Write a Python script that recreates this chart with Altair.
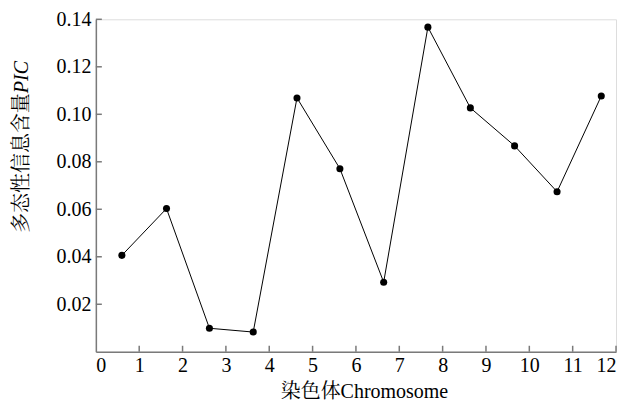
import altair as alt
import pandas as pd

chromosome = [0.6, 1.63, 2.62, 3.63, 4.64, 5.63, 6.64, 7.66, 8.64, 9.66, 10.64, 11.66]
pic = [0.0406, 0.0603, 0.0099, 0.0083, 0.1069, 0.0771, 0.0293, 0.1367, 0.1027, 0.0867, 0.0674, 0.1077]
x_ticks = list(range(0, 13))
y_ticks = [0.02, 0.04, 0.06, 0.08, 0.10, 0.12, 0.14]
x_title = "染色体Chromosome"
y_title_cn = "多态性信息含量"
y_title_en = "PIC"

df = pd.DataFrame({"x": chromosome, "y": pic})
xt = pd.DataFrame({"x": x_ticks[1:]})
yt = pd.DataFrame({"y": y_ticks})

FONT = "Liberation Serif, Noto Serif CJK SC, Noto Sans CJK SC"
AX = "#7a7a7a"
W, H = 521, 333

xs = alt.Scale(domain=[0, 12], nice=False, zero=False)
ys = alt.Scale(domain=[0, 0.14], nice=False)

base = alt.Chart(df)

line = base.mark_line(color="black", strokeWidth=1).encode(
    x=alt.X("x:Q", scale=xs,
            axis=alt.Axis(values=x_ticks, format="d", title=None,
                          ticks=False, domainColor=AX, domainWidth=1.5,
                          labelFont=FONT, labelFontSize=20, labelColor="black",
                          labelPadding=4, grid=False)),
    y=alt.Y("y:Q", scale=ys,
            axis=alt.Axis(values=y_ticks, format=".2f", title=None,
                          ticks=False, domainColor=AX, domainWidth=1.5,
                          labelFont=FONT, labelFontSize=20, labelColor="black",
                          labelPadding=5, grid=False)),
)
pts = base.mark_circle(color="black", size=50, opacity=1).encode(
    x=alt.X("x:Q", scale=xs), y=alt.Y("y:Q", scale=ys))

xtick = alt.Chart(xt).mark_rule(color=AX, strokeWidth=1.5).encode(
    x=alt.X("x:Q", scale=xs), y=alt.value(H), y2=alt.value(H - 6))
ytick = alt.Chart(yt).mark_rule(color=AX, strokeWidth=1.5).encode(
    y=alt.Y("y:Q", scale=ys), x=alt.value(0), x2=alt.value(6))

xtitle = alt.Chart(pd.DataFrame({"t": [x_title]})).mark_text(
    font=FONT, fontSize=20, color="black", baseline="middle", align="center"
).encode(text="t:N", x=alt.value(269), y=alt.value(373))

ytitle_cn = alt.Chart(pd.DataFrame({"t": [y_title_cn]})).mark_text(
    font=FONT, fontSize=20, color="black", baseline="middle", align="right", angle=270
).encode(text="t:N", x=alt.value(-74), y=alt.value(74))
ytitle_en = alt.Chart(pd.DataFrame({"t": [y_title_en]})).mark_text(
    font=FONT, fontSize=20, color="black", baseline="middle", align="left", angle=270,
    fontStyle="italic"
).encode(text="t:N", x=alt.value(-74), y=alt.value(74))

chart = alt.layer(line, pts, xtick, ytick, xtitle, ytitle_cn, ytitle_en).properties(
    width=W, height=H,
    autosize=alt.AutoSizeParams(type="none"),
    padding={"left": 88, "top": 11, "right": 10, "bottom": 52},
).configure_view(stroke=None).configure(background="white")

chart.save("out.html", embed_options={"renderer": "svg", "actions": False})
